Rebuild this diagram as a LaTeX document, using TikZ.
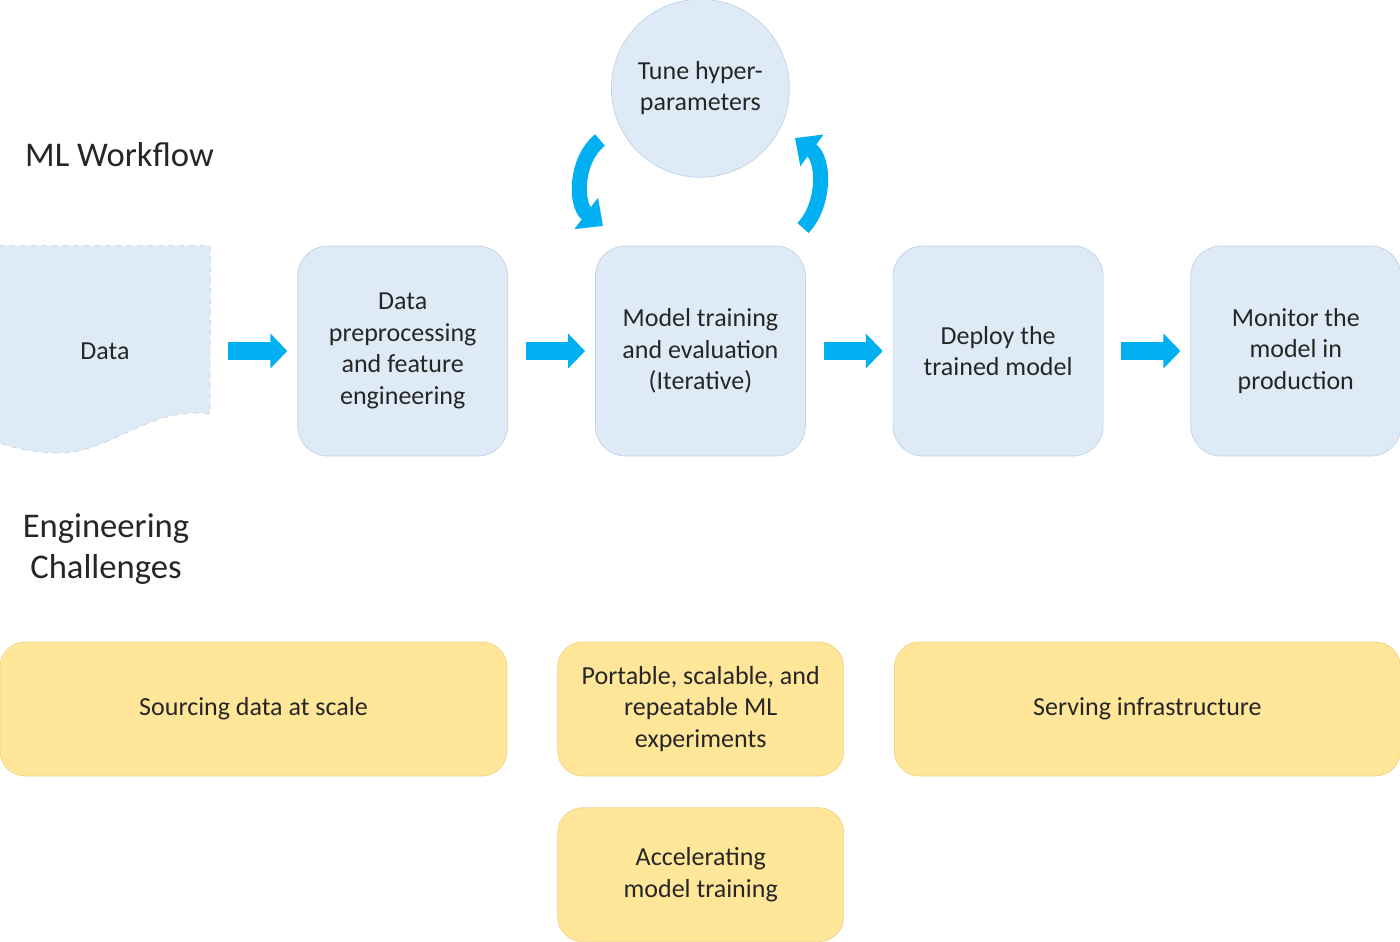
\documentclass[tikz,border=0pt]{standalone}
\usepackage{fontspec}
\setmainfont{Carlito}
\usepackage{xcolor}
\usetikzlibrary{positioning,arrows.meta}
\definecolor{stepblue}{HTML}{DEEBF7}
\definecolor{stepline}{HTML}{BFD3E6}
\definecolor{arrcyan}{HTML}{00B0F0}
\definecolor{chalyellow}{HTML}{FFE699}
\definecolor{challine}{HTML}{EFD58A}
\definecolor{txt}{HTML}{262626}

\begin{document}
\begin{tikzpicture}[
  font=\fontsize{14.8}{17.9}\selectfont, text=txt,
  flow/.style={draw=stepline, fill=stepblue, rounded corners=0.6cm, align=center,
               minimum width=4.2cm, minimum height=4.2cm, inner sep=2pt},
  chal/.style={draw=challine, fill=chalyellow, rounded corners=0.5cm, align=center,
               minimum height=2.68cm, inner sep=2pt},
  title/.style={font=\fontsize{19.7}{23.8}\selectfont, align=center},
  flowarr/.style={arrcyan, line width=0.36cm,
                  -{Triangle[width=0.68cm, length=0.34cm]},
                  shorten <=0.36cm, shorten >=0.2cm},
  curvarr/.style={arrcyan, line width=0.3cm,
                  -{Triangle[width=0.76cm, length=0.42cm]}}]
\useasboundingbox (0,0) rectangle (28,-18.82);
% ML workflow row
\node[minimum width=4.2cm, minimum height=4.2cm, inner sep=0pt] (data) at (2.1,-7.02) {};
\fill[stepblue] (data.north west) -- (data.north east) -- (4.2,-8.28)
  .. controls (3.0,-8.1) and (2.2,-9.1) .. (1.1,-9.06)
  .. controls (0.6,-9.04) and (0.2,-8.94) .. (0,-8.86) -- cycle;
\draw[stepline, dashed, thin] (data.north west) -- (data.north east) -- (4.2,-8.28)
  .. controls (3.0,-8.1) and (2.2,-9.1) .. (1.1,-9.06)
  .. controls (0.6,-9.04) and (0.2,-8.94) .. (0,-8.86);
\node at (data) {Data};
\node[flow, right=1.74cm of data] (prep) {Data\\preprocessing\\and feature\\engineering};
\node[flow, right=1.74cm of prep] (train) {Model training\\and evaluation\\(Iterative)};
\node[flow, right=1.74cm of train] (deploy) {Deploy the\\trained model};
\node[flow, right=1.74cm of deploy] (monitor) {Monitor the\\model in\\production};
\node[draw=stepline, fill=stepblue, circle, minimum size=3.56cm, inner sep=0pt, align=center,
      above=1.36cm of train] (tune) {Tune hyper-\\parameters};
\draw[flowarr] (data) -- (prep); \draw[flowarr] (prep) -- (train);
\draw[flowarr] (train) -- (deploy); \draw[flowarr] (deploy) -- (monitor);
% tuning loop
\coordinate (lstart) at (12.0,-2.8); \coordinate (lend) at (12.06,-4.52);
\coordinate (rstart) at (16.06,-4.56); \coordinate (rend) at (15.9,-2.76);
\draw[curvarr] (lstart) .. controls (11.5,-3.2) and (11.5,-4.1) .. (lend);
\draw[curvarr] (rstart) .. controls (16.5,-4.1) and (16.5,-3.2) .. (rend);
\node[title, anchor=west] (wf) at (0.38,-3.1) {ML Workflow};
\node[title] (eng) at (2.12,-10.98) {Engineering\\Challenges};
% engineering challenges
\node[chal, minimum width=10.14cm] (src) at (5.07,-14.18) {Sourcing data at scale};
\node[chal, minimum width=5.72cm, right=1cm of src] (exp) {Portable, scalable, and\\repeatable ML\\experiments};
\node[chal, minimum width=10.12cm, right=1cm of exp] (serve) {Serving infrastructure};
\node[chal, minimum width=5.72cm, below=0.62cm of exp] (accel) {Accelerating\\model training};
\end{tikzpicture}
\end{document}
